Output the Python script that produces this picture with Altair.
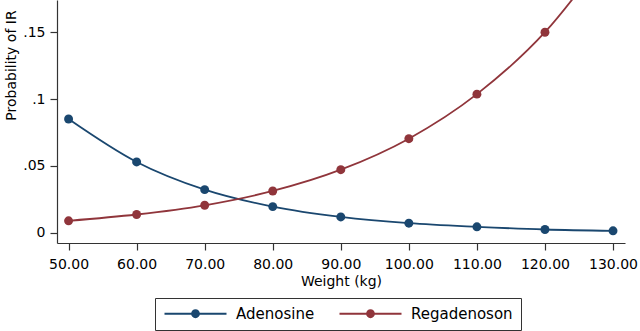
import altair as alt
import pandas as pd

weights = [50, 60, 70, 80, 90, 100, 110, 120, 130]
adenosine = [0.0851, 0.0530, 0.0323, 0.0196, 0.0119, 0.0072, 0.0045, 0.0025, 0.0015]
regadenoson = [0.0090, 0.0137, 0.0206, 0.0313, 0.0472, 0.0704, 0.1037, 0.1500, 0.2150]
series = ["Adenosine", "Regadenoson"]
colors = ["#1a476f", "#90353b"]
y_ticks = [0, 0.05, 0.1, 0.15]

rows = []
for w, a, r in zip(weights, adenosine, regadenoson):
    rows.append({"weight": w, "prob": a, "drug": series[0]})
    rows.append({"weight": w, "prob": r, "drug": series[1]})
df = pd.DataFrame(rows)

FONT = "DejaVu Sans"
AX = "#333333"

x = alt.X(
    "weight:Q",
    scale=alt.Scale(domain=[48.3, 131.76], nice=False, zero=False),
    axis=alt.Axis(
        values=weights, format=".2f", title="Weight (kg)", grid=False,
        tickSize=7, labelPadding=7, labelFlush=False, labelOverlap=False,
        labelFont=FONT, labelFontSize=14, labelColor="black",
        titleFont=FONT, titleFontSize=14, titleFontWeight="normal", titleColor="black",
        titleY=42, titleBaseline="alphabetic",
        domainColor=AX, tickColor=AX, domainWidth=1.2, tickWidth=1.2,
    ),
)
y = alt.Y(
    "prob:Q",
    scale=alt.Scale(domain=[-0.0076, 0.1741], nice=False, zero=False),
    axis=alt.Axis(
        values=y_ticks,
        labelExpr="datum.value == 0 ? '0' : replace(format(datum.value, '.2~f'), '0.', '.')",
        title="Probability of IR", grid=False,
        tickSize=7, labelPadding=5, labelFlush=False,
        labelFont=FONT, labelFontSize=14, labelColor="black",
        titleFont=FONT, titleFontSize=14, titleFontWeight="normal", titleColor="black",
        titleAngle=270, titleX=-42, titleY=65, titleAlign="center", titleBaseline="alphabetic",
        domainColor=AX, tickColor=AX, domainWidth=1.2, tickWidth=1.2,
    ),
)

PATH = ("M-6.2,-0.19L6.2,-0.19L6.2,0.19L-6.2,0.19Z "
        "M-0.88,0A0.88,0.88,0,1,1,0.88,0A0.88,0.88,0,1,1,-0.88,0Z")

color = alt.Color(
    "drug:N", scale=alt.Scale(domain=series, range=colors),
    legend=alt.Legend(
        title=None, orient="none", legendX=98, legendY=298, direction="horizontal",
        symbolType=PATH, symbolSize=100, symbolStrokeWidth=0, symbolOffset=25,
        labelFont=FONT, labelFontSize=15, labelColor="black", labelOffset=33,
        columnPadding=23, padding=8, strokeColor=AX, fillColor="white",
    ),
)

lines = alt.Chart(df).mark_line(clip=True, strokeWidth=1.8, interpolate="monotone").encode(
    x=x, y=y, color=color,
)
points = alt.Chart(df).mark_point(filled=True, opacity=1, size=80, clip=True).encode(
    x=x, y=y, color=color,
)

chart = alt.layer(lines, points).properties(
    width=568, height=243,
    autosize=alt.AutoSizeParams(type="none"),
    padding={"left": 57, "top": 0, "right": 15, "bottom": 88},
    background="white",
).configure_view(stroke=None)

chart.save("out.html", embed_options={"renderer": "svg", "actions": False})
